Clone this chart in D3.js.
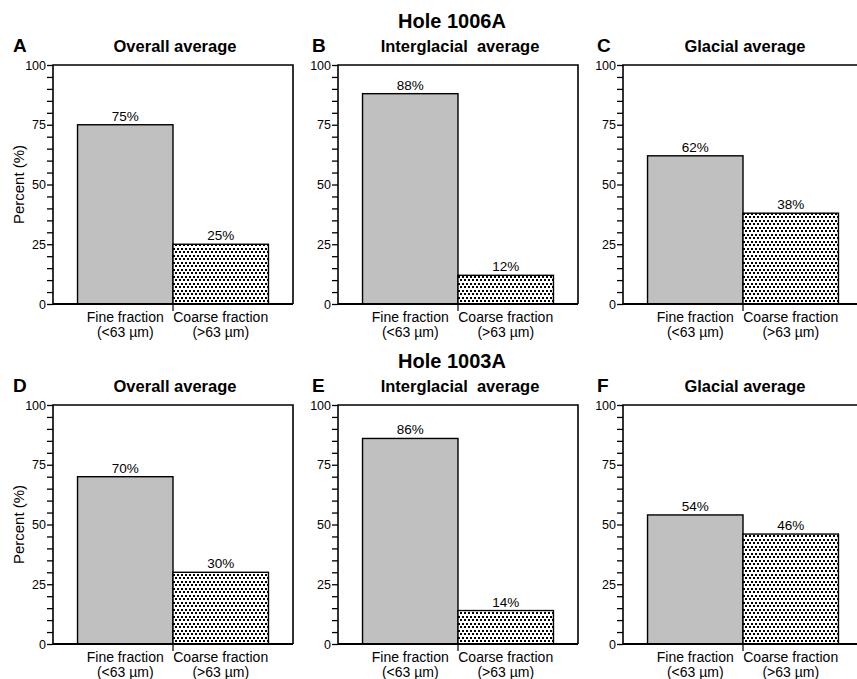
<!DOCTYPE html>
<html>
<head>
<meta charset="utf-8">
<script src="https://cdn.jsdelivr.net/npm/d3@7"></script>
<style>
  html, body { margin: 0; padding: 0; background: #fff; }
  svg { display: block; font-family: "Liberation Sans", Arial, Helvetica, sans-serif; }
</style>
</head>
<body>
<svg id="chart" width="857" height="679"></svg>
<script>
// Grain-size fractions for two ODP holes
const holeNames = ["Hole 1006A", "Hole 1003A"];
const panelLetters = [["A", "B", "C"], ["D", "E", "F"]];
const panelTitles = ["Overall average", "Interglacial  average", "Glacial average"];
const categories = ["Fine fraction", "Coarse fraction"];
const categorySizes = ["(<63 \u00b5m)", "(>63 \u00b5m)"];
const fine1006A = [75, 88, 62];
const coarse1006A = [25, 12, 38];
const fine1003A = [70, 86, 54];
const coarse1003A = [30, 14, 46];
const yMajorTicks = [0, 25, 50, 75, 100];
const yAllTicks = d3.range(0, 101, 5);
const yLabel = "Percent (%)";

const rows = [
  { hole: holeNames[0], fine: fine1006A, coarse: coarse1006A },
  { hole: holeNames[1], fine: fine1003A, coarse: coarse1003A }
];

const svg = d3.select("#chart");

// stipple pattern for the coarse fraction (staggered square dots)
const defs = svg.append("defs");
const pat = defs.append("pattern")
  .attr("id", "stipple")
  .attr("patternUnits", "userSpaceOnUse")
  .attr("width", 4).attr("height", 7);
pat.append("rect").attr("width", 4).attr("height", 7).attr("fill", "#fff");
[[0, 1], [2, 4]].forEach(([px, py]) => {
  pat.append("rect")
    .attr("x", px).attr("y", py).attr("width", 2).attr("height", 2)
    .attr("fill", "#000").attr("shape-rendering", "crispEdges");
});

const panelW = 240, panelH = 239;
const colX = [53, 338, 623];
const rowY = [65, 405];
const letterX = [13, 312, 597];

const y = d3.scaleLinear().domain([0, 100]).range([panelH, 0]);
const x = d3.scaleBand().domain(categories).range([0, panelW])
  .paddingInner(0).paddingOuter(0.257);

rows.forEach((row, ri) => {
  // hole heading
  svg.append("text")
    .attr("x", 452).attr("y", rowY[ri] - 37)
    .attr("text-anchor", "middle")
    .attr("font-weight", "bold").attr("font-size", 20)
    .text(row.hole);

  // y-axis title on the left panel of each row
  svg.append("text")
    .attr("transform", `translate(24,${rowY[ri] + panelH / 2}) rotate(-90)`)
    .attr("text-anchor", "middle")
    .attr("font-size", 15)
    .text(yLabel);

  panelTitles.forEach((title, ci) => {
    const g = svg.append("g").attr("transform", `translate(${colX[ci]},${rowY[ri]})`);
    const values = [row.fine[ci], row.coarse[ci]];

    svg.append("text")
      .attr("x", letterX[ci]).attr("y", rowY[ri] - 13)
      .attr("font-weight", "bold").attr("font-size", 19)
      .text(panelLetters[ri][ci]);

    g.append("text")
      .attr("x", panelW / 2 + 2).attr("y", -13)
      .attr("text-anchor", "middle")
      .attr("font-weight", "bold").attr("font-size", 16.5)
      .style("white-space", "pre")
      .text(title);

    // bars
    g.selectAll("rect.bar").data(values).join("rect")
      .attr("class", "bar")
      .attr("x", (d, i) => x(categories[i]))
      .attr("y", d => y(d))
      .attr("width", x.bandwidth())
      .attr("height", d => y(0) - y(d))
      .attr("fill", (d, i) => i === 0 ? "#c0c0c0" : "url(#stipple)")
      .attr("stroke", "#000").attr("stroke-width", 1.4);

    // value labels
    g.selectAll("text.val").data(values).join("text")
      .attr("class", "val")
      .attr("x", (d, i) => x(categories[i]) + x.bandwidth() / 2)
      .attr("y", d => y(d) - 4)
      .attr("text-anchor", "middle")
      .attr("font-size", 13.5)
      .text(d => d + "%");

    // frame
    g.append("path")
      .attr("d", `M0,${panelH}V0H${panelW}V${panelH}`)
      .attr("fill", "none").attr("stroke", "#000").attr("stroke-width", 1.6);
    g.append("line")
      .attr("x1", 0).attr("x2", panelW).attr("y1", panelH).attr("y2", panelH)
      .attr("stroke", "#000").attr("stroke-width", 2.2);

    // y axis ticks
    const yAxis = d3.axisLeft(y)
      .tickValues(yAllTicks)
      .tickSize(6).tickPadding(1)
      .tickFormat(d => yMajorTicks.includes(d) ? d : "");
    const ya = g.append("g").call(yAxis);
    ya.select(".domain").remove();
    ya.selectAll("line").attr("stroke-width", 1.3);
    ya.selectAll("text").attr("font-size", 12.5);
    ya.attr("font-family", null);

    // category divider tick
    const divX = x(categories[1]);
    g.append("line")
      .attr("x1", divX).attr("x2", divX)
      .attr("y1", panelH).attr("y2", panelH + 7)
      .attr("stroke", "#000").attr("stroke-width", 1.2);

    // category labels
    categories.forEach((c, i) => {
      const cx = x(c) + x.bandwidth() / 2;
      g.append("text")
        .attr("x", cx).attr("y", panelH + 18)
        .attr("text-anchor", "middle").attr("font-size", 14)
        .text(c);
      g.append("text")
        .attr("x", cx).attr("y", panelH + 33)
        .attr("text-anchor", "middle").attr("font-size", 14)
        .text(categorySizes[i]);
    });
  });
});
</script>
</body>
</html>
